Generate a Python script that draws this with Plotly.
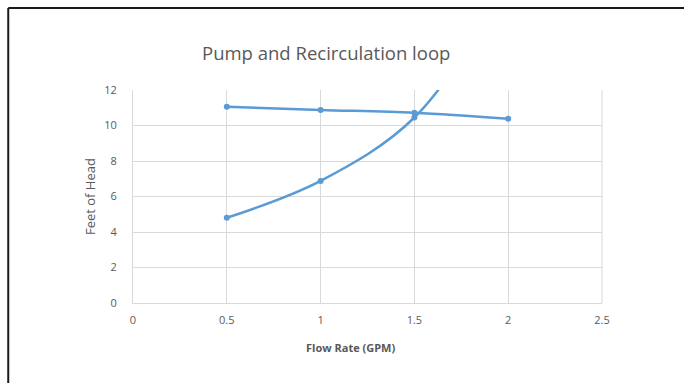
import plotly.graph_objects as go

# Flow rate (GPM) and head (ft) for the pump curve and the loop's system curve
pump_flow = [0.5, 1.0, 1.5, 2.0]
pump_head = [11.05, 10.88, 10.72, 10.38]

system_flow = [0.5, 1.0, 1.5, 2.0]
system_head = [4.8, 6.88, 10.45, 18.0]

x_ticks = [0, 0.5, 1, 1.5, 2, 2.5]
x_tick_text = ["0", "0.5", "1", "1.5", "2", "2.5"]
y_ticks = [0, 2, 4, 6, 8, 10, 12]

BLUE = "#5B9BD5"
GRID = "#D9D9D9"
TEXT = "#595959"
FONT = "Open Sans"

fig = go.Figure()
fig.add_trace(go.Scatter(
    x=pump_flow, y=pump_head, mode="lines+markers",
    line=dict(color=BLUE, width=2.5, shape="spline"),
    marker=dict(color=BLUE, size=6), showlegend=False,
))
fig.add_trace(go.Scatter(
    x=system_flow, y=system_head, mode="lines+markers",
    line=dict(color=BLUE, width=2.5, shape="spline"),
    marker=dict(color=BLUE, size=6), showlegend=False,
))

fig.update_layout(
    width=684, height=383,
    margin=dict(l=133, r=82, t=90, b=80),
    paper_bgcolor="white", plot_bgcolor="white",
    font=dict(family=FONT, color=TEXT, size=11),
    xaxis=dict(range=[0, 2.5], tickvals=x_ticks, ticktext=x_tick_text,
               showgrid=True, gridcolor=GRID, gridwidth=1,
               showline=True, linecolor=GRID, linewidth=1,
               zeroline=False, ticks="", ticklabelstandoff=7,
               tickfont=dict(family=FONT, size=11, color=TEXT)),
    yaxis=dict(range=[0, 12], tickvals=y_ticks,
               showgrid=True, gridcolor=GRID, gridwidth=1,
               showline=True, linecolor=GRID, linewidth=1,
               zeroline=False, ticks="", ticklabelstandoff=13,
               tickfont=dict(family=FONT, size=11, color=TEXT)),
)

# Chart title and axis titles
fig.add_annotation(text="Pump and Recirculation loop", xref="paper", yref="paper",
                   x=0.4115, y=1.178, xanchor="center", yanchor="middle",
                   showarrow=False, font=dict(family=FONT, size=18.5, color=TEXT))
fig.add_annotation(text="<b>Flow Rate (GPM)</b>", xref="paper", yref="paper",
                   x=0.463, y=-0.207, xanchor="center", yanchor="middle",
                   showarrow=False,
                   font=dict(family="Liberation Sans Narrow, " + FONT, size=11, color=TEXT))
fig.add_annotation(text="Feet of Head", xref="paper", yref="paper",
                   x=-0.0917, y=0.502, xanchor="center", yanchor="middle",
                   textangle=-90, showarrow=False,
                   font=dict(family=FONT, size=13, color=TEXT))

# Right-hand plot edge
fig.add_shape(type="line", xref="paper", yref="paper", x0=1, x1=1, y0=0, y1=1,
              line=dict(color=GRID, width=1))

# Frame around the chart: top and left edges
fig.add_shape(type="line", xref="paper", yref="paper",
              x0=-0.266, x1=1.3, y0=1.385, y1=1.385,
              line=dict(color="#1a1a1a", width=2))
fig.add_shape(type="line", xref="paper", yref="paper",
              x0=-0.266, x1=-0.266, y0=1.385, y1=-0.5,
              line=dict(color="#1a1a1a", width=2))

fig.write_html("out.html")
